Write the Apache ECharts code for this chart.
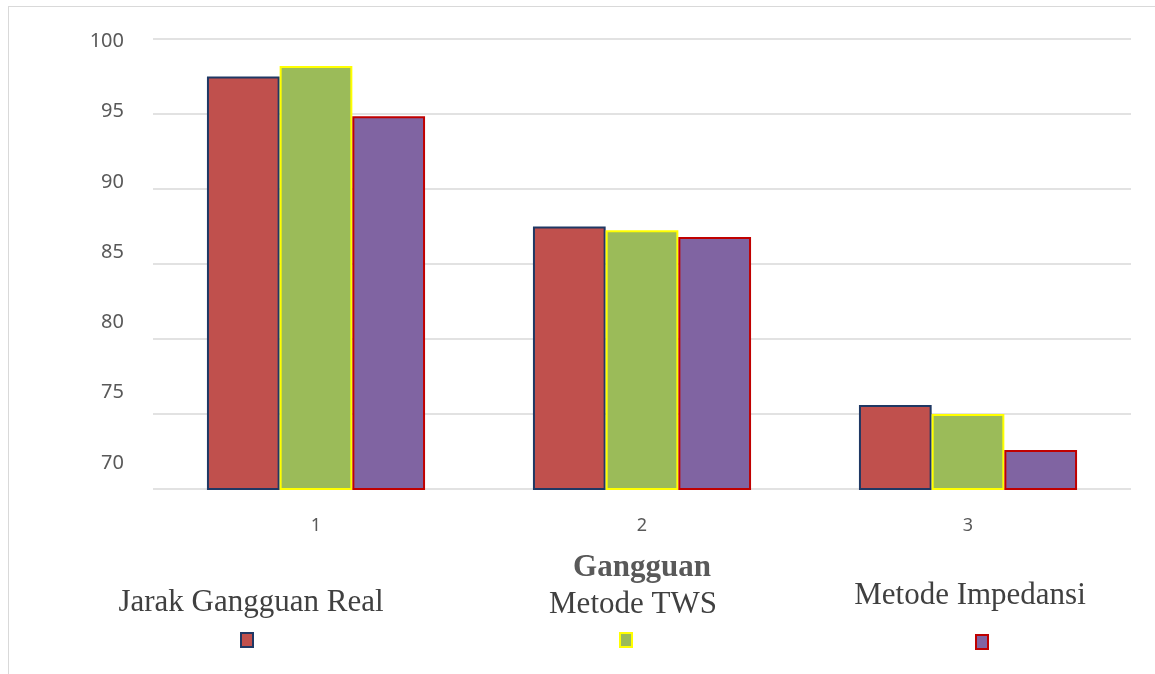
<!DOCTYPE html>
<html>
<head>
<meta charset="utf-8">
<script src="https://cdn.jsdelivr.net/npm/echarts@6/dist/echarts.min.js"></script>
<style>
  html, body { margin: 0; padding: 0; background: #fff; }
  #frame { position: absolute; left: 8px; top: 6px; width: 1300px; height: 800px;
           border-left: 1.5px solid #d9d9d9; border-top: 1.5px solid #d9d9d9; }
  #main { position: absolute; left: 0; top: 0; width: 1155px; height: 674px; }
</style>
</head>
<body>
<div id="frame"></div>
<div id="main"></div>
<script>
const categories = ['1', '2', '3'];
const seriesNames = ['Jarak Gangguan Real', 'Metode TWS', 'Metode Impedansi'];
const jarakReal = [97.5, 87.5, 75.6];
const metodeTWS = [98.2, 87.25, 75.0];
const metodeImpedansi = [94.85, 86.8, 72.6];
const yTicks = [70, 75, 80, 85, 90, 95, 100];

const fills = ['#c0504d', '#9bbb59', '#8064a2'];
const borders = ['#1f3864', '#ffff00', '#c00000'];
const values = [jarakReal, metodeTWS, metodeImpedansi];

// excel draws the y labels a bit squeezed, shift them up a little
const rich = {};
yTicks.forEach(v => {
  const d = Math.round((100 - v) * 0.94);
  rich['t' + v] = { padding: [4, 0, 2 * d, 0], fontSize: 20, color: '#595959', fontFamily: 'Noto Sans' };
});

const chart = echarts.init(document.getElementById('main'));

const legendX = [240, 619, 975];
const legendY = [632, 632, 634];
const labelX = [251, 633, 970];
const labelY = [603, 605, 596];

chart.setOption({
  animation: false,
  grid: { left: 153, right: 24, top: 39, bottom: 185 },
  xAxis: {
    type: 'category',
    data: categories,
    name: 'Gangguan',
    nameLocation: 'middle',
    nameGap: 63,
    nameTextStyle: { fontFamily: 'Liberation Serif', fontWeight: 'bold', fontSize: 31, color: '#595959' },
    axisLine: { show: false },
    axisTick: { show: false },
    axisLabel: { margin: 28, fontSize: 18, color: '#595959', fontFamily: 'Noto Sans' }
  },
  yAxis: {
    type: 'value',
    min: 70,
    max: 100,
    interval: 5,
    axisLine: { show: false },
    axisTick: { show: false },
    splitLine: { lineStyle: { color: '#d9d9d9', width: 1.5 } },
    axisLabel: { margin: 29, formatter: v => '{t' + v + '|' + v + '}', rich: rich }
  },
  legend: seriesNames.map((n, i) => ({
    data: [n],
    left: legendX[i],
    top: legendY[i],
    padding: 0,
    icon: 'rect',
    itemWidth: 12,
    itemHeight: 14,
    formatter: () => '',
    selectedMode: false
  })),
  graphic: seriesNames.map((n, i) => ({
    type: 'text',
    x: labelX[i],
    y: labelY[i],
    style: {
      text: n,
      font: '31px "Liberation Serif"',
      fill: '#404040',
      align: 'center',
      verticalAlign: 'middle'
    }
  })),
  series: seriesNames.map((n, i) => ({
    name: n,
    type: 'bar',
    data: values[i],
    barWidth: 72.7,
    barGap: 0,
    itemStyle: { color: fills[i], borderColor: borders[i], borderWidth: 2 }
  }))
});

window.onresize = function () {
  chart.resize();
};
</script>
</body>
</html>
